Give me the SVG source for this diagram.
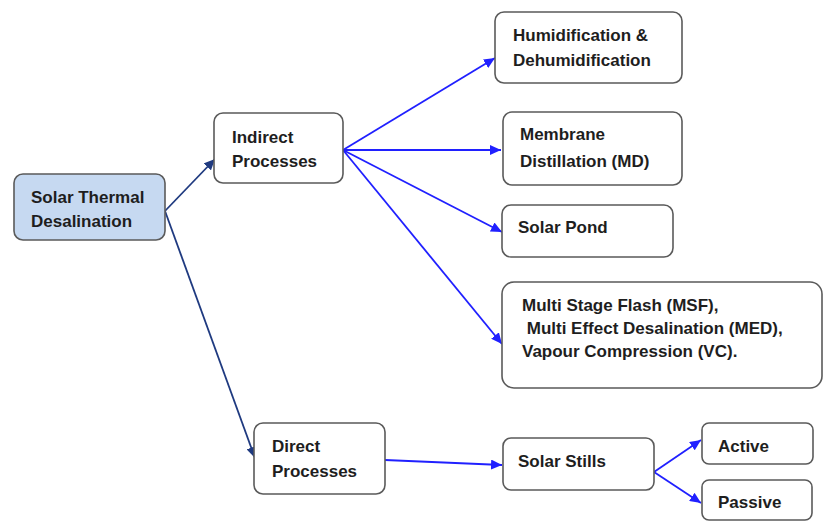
<svg xmlns="http://www.w3.org/2000/svg" width="824" height="522" viewBox="0 0 824 522">
<style>
.box{fill:#ffffff;stroke:#5a5a5a;stroke-width:1.6}
.root{fill:#c6d9f1;stroke:#5a5a5a;stroke-width:1.6}
.t{font-family:"Liberation Sans",Arial,sans-serif;font-weight:bold;font-size:17px;fill:#1e1e1e}
.blue{stroke:#2020ff;stroke-width:1.8;fill:none;marker-end:url(#ab)}
.navy{stroke:#1f3a80;stroke-width:1.8;fill:none;marker-end:url(#an)}
</style>
<defs>
<marker id="ab" markerUnits="userSpaceOnUse" markerWidth="12" markerHeight="10" refX="11" refY="5" orient="auto">
<path d="M0,0 L11,5 L0,10 z" fill="#2020ff"/>
</marker>
<marker id="an" markerUnits="userSpaceOnUse" markerWidth="12" markerHeight="10" refX="11" refY="5" orient="auto">
<path d="M0,0 L11,5 L0,10 z" fill="#1f3a80"/>
</marker>
</defs>
<rect width="824" height="522" fill="#ffffff"/>
<g id="connectors">
<line class="navy" x1="165" y1="211" x2="215" y2="159"/>
<line class="navy" x1="165" y1="211" x2="255" y2="458"/>
<line class="blue" x1="343" y1="150" x2="495" y2="58"/>
<line class="blue" x1="343" y1="150" x2="501" y2="150"/>
<line class="blue" x1="343" y1="150" x2="502" y2="232"/>
<line class="blue" x1="343" y1="150" x2="502" y2="344"/>
<line class="blue" x1="385" y1="460" x2="502" y2="465"/>
<line class="blue" x1="654" y1="472" x2="701" y2="440"/>
<line class="blue" x1="654" y1="472" x2="701" y2="503"/>
</g>
<g id="solar-thermal">
<rect class="root" x="14" y="174" width="151" height="66" rx="9"/>
<text class="t" x="31" y="203">Solar Thermal</text>
<text class="t" x="31" y="227">Desalination</text>
</g>
<g id="indirect">
<rect class="box" x="214" y="113" width="129" height="70" rx="9"/>
<text class="t" x="232" y="143">Indirect</text>
<text class="t" x="232" y="167">Processes</text>
</g>
<g id="humidification">
<rect class="box" x="495" y="12" width="187" height="71" rx="9"/>
<text class="t" x="513" y="41">Humidification &amp;</text>
<text class="t" x="513" y="66">Dehumidification</text>
</g>
<g id="membrane">
<rect class="box" x="503" y="112" width="179" height="73" rx="9"/>
<text class="t" x="520" y="140">Membrane</text>
<text class="t" x="520" y="167">Distillation (MD)</text>
</g>
<g id="solar-pond">
<rect class="box" x="502" y="205" width="171" height="52" rx="9"/>
<text class="t" x="518" y="233">Solar Pond</text>
</g>
<g id="multi">
<rect class="box" x="502" y="282" width="320" height="106" rx="12"/>
<text class="t" x="522" y="311">Multi Stage Flash (MSF),</text>
<text class="t" x="522" y="334" xml:space="preserve"> Multi Effect Desalination (MED),</text>
<text class="t" x="522" y="357">Vapour Compression (VC).</text>
</g>
<g id="direct">
<rect class="box" x="254" y="423" width="131" height="71" rx="9"/>
<text class="t" x="272" y="452">Direct</text>
<text class="t" x="272" y="477">Processes</text>
</g>
<g id="solar-stills">
<rect class="box" x="503" y="438" width="151" height="52" rx="8"/>
<text class="t" x="518" y="467">Solar Stills</text>
</g>
<g id="active">
<rect class="box" x="702" y="423" width="111" height="41" rx="7"/>
<text class="t" x="718" y="452">Active</text>
</g>
<g id="passive">
<rect class="box" x="702" y="480" width="110" height="40" rx="7"/>
<text class="t" x="718" y="508">Passive</text>
</g>
</svg>
